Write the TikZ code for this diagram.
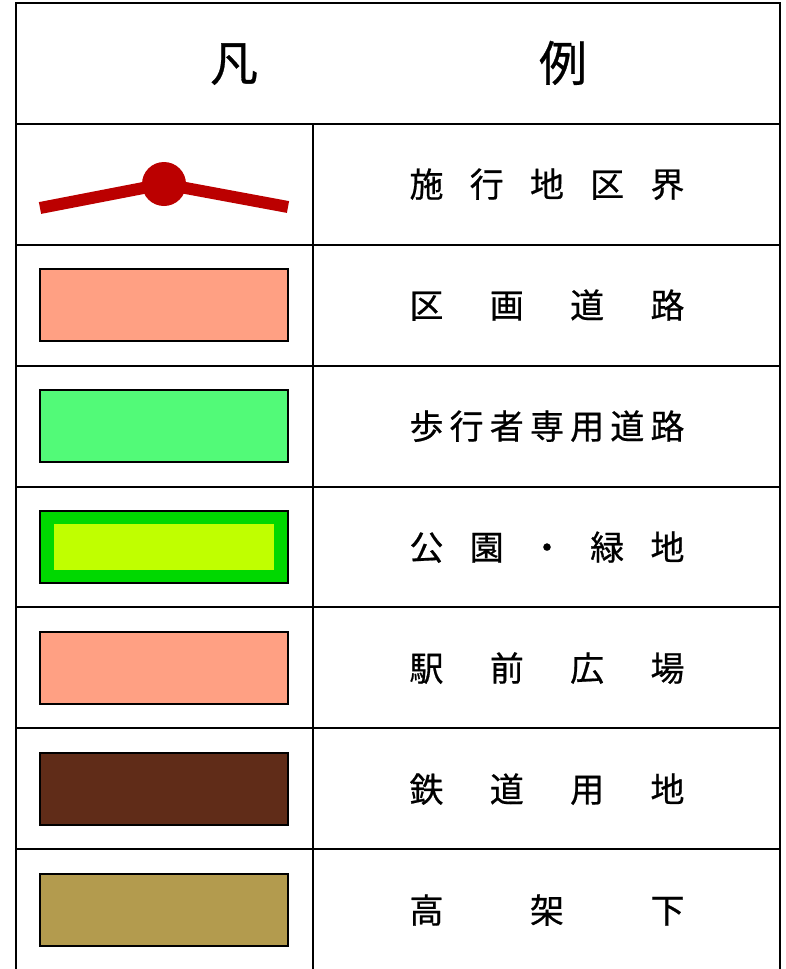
\documentclass[tikz,border=0pt]{standalone}
\usepackage{fontspec}
\newfontfamily\jpfont[FakeBold=0.6]{Noto Sans CJK JP}
\usetikzlibrary{positioning}
\definecolor{boundred}{HTML}{BB0000}
\definecolor{roadpink}{HTML}{FFA083}
\definecolor{walkgreen}{HTML}{52FA78}
\definecolor{parkgreen}{HTML}{00D800}
\definecolor{parklime}{HTML}{C0FF00}
\definecolor{railbrown}{HTML}{602C18}
\definecolor{viaductkhaki}{HTML}{B39B4E}
\tikzset{
x=1pt, y=-1pt, % one unit is one pixel of the legend, y runs downwards
rule/.style={line width=2pt}, % lines of the table
swatch/.style={draw=black, line width=1.8pt, minimum width=248pt, minimum height=72pt, inner sep=0pt}, % coloured sample boxes
entry/.style={font=\jpfont\fontsize{34}{34}\selectfont, inner sep=0pt, anchor=base}, % texts of the rows
heading/.style={font=\jpfont\fontsize{48}{48}\selectfont, inner sep=0pt, anchor=base}, % the two title glyphs
}
\newcommand{\spreadtext}[1]{\makebox[275pt][s]{#1}}

\begin{document}
\begin{tikzpicture}
                \useasboundingbox (0,0) rectangle (785,969);

                % table
                \draw[rule] (16,969) -- (16,3) -- (780,3) -- (780,969);
                \draw[rule] (16,124) -- (780,124);
                \draw[rule] (16,245) -- (780,245);
                \draw[rule] (16,366) -- (780,366);
                \draw[rule] (16,487) -- (780,487);
                \draw[rule] (16,607) -- (780,607);
                \draw[rule] (16,728) -- (780,728);
                \draw[rule] (16,849) -- (780,849);
                \draw[rule] (313,124) -- (313,969);

                % heading
                \node[heading] (head_left) at (234,81) {凡};
                \node[heading] (head_right) at (563,81) {例};

                % boundary symbol
                \coordinate (bound_a) at (40,208);
                \coordinate (bound_b) at (164,184);
                \coordinate (bound_c) at (288,207);
                \draw[boundred, line width=12pt] (bound_a) -- (bound_b) -- (bound_c);
                \fill[boundred] (bound_b) circle (22);

                % samples
                \node[swatch, fill=roadpink] (sw_road) at (164,305) {};
                \node[swatch, fill=walkgreen] (sw_walk) at (164,426) {};
                \node[swatch, fill=parkgreen] (sw_park) at (164,547) {};
                \fill[parklime] ([shift={(15,14)}]sw_park.north west) rectangle ([shift={(-15,-14)}]sw_park.south east);
                \node[swatch, fill=roadpink] (sw_plaza) at (164,668) {};
                \node[swatch, fill=railbrown] (sw_rail) at (164,789) {};
                \node[swatch, fill=viaductkhaki] (sw_viaduct) at (164,910) {};

                % texts
                \node[entry] (txt_bound) at (547,197) {\spreadtext{施\hfill 行\hfill 地\hfill 区\hfill 界}};
                \node[entry] (txt_road) at (547,318) {\spreadtext{区\hfill 画\hfill 道\hfill 路}};
                \node[entry] (txt_walk) at (547,439) {\spreadtext{歩\hfill 行\hfill 者\hfill 専\hfill 用\hfill 道\hfill 路}};
                \node[entry] (txt_park) at (547,560) {\spreadtext{公\hfill 園\hfill ・\hfill 緑\hfill 地}};
                \node[entry] (txt_plaza) at (547,681) {\spreadtext{駅\hfill 前\hfill 広\hfill 場}};
                \node[entry] (txt_rail) at (547,802) {\spreadtext{鉄\hfill 道\hfill 用\hfill 地}};
                \node[entry] (txt_viaduct) at (547,923) {\spreadtext{高\hfill 架\hfill 下}};
\end{tikzpicture}
\end{document}
